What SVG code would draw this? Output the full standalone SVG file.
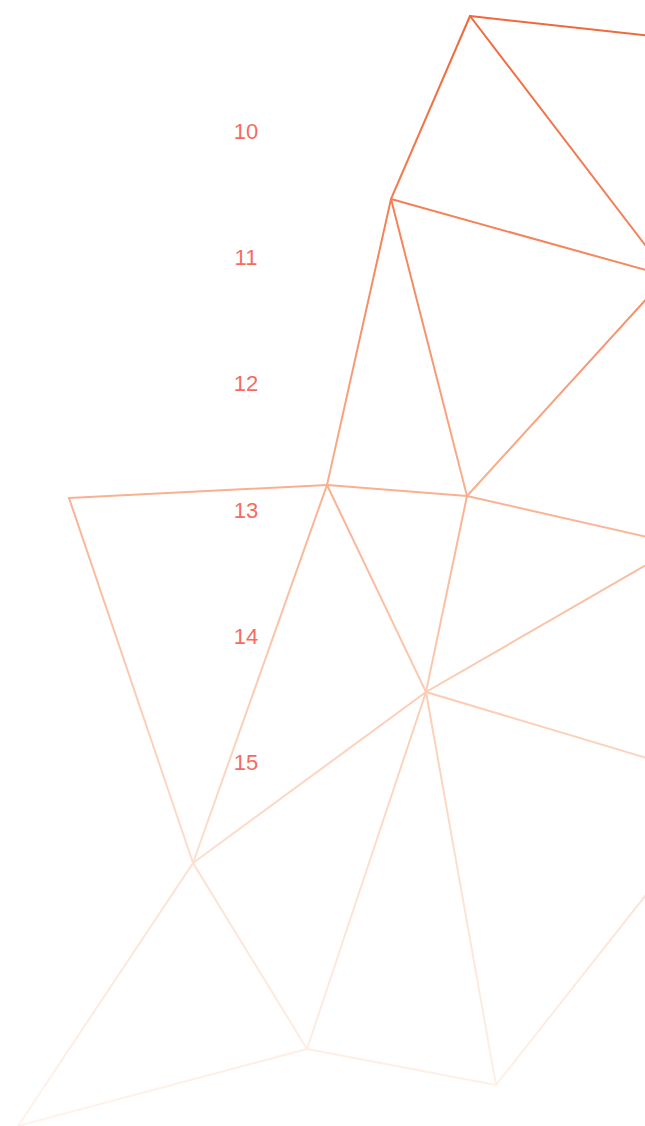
<svg xmlns="http://www.w3.org/2000/svg" width="645" height="1126" viewBox="0 0 645 1126">
  <defs>
    <linearGradient id="g" gradientUnits="userSpaceOnUse" x1="0" y1="0" x2="0" y2="1126">
      <stop offset="0" stop-color="#f06536"/>
      <stop offset="0.22" stop-color="#f5855c"/>
      <stop offset="0.45" stop-color="#f9b393"/>
      <stop offset="0.63" stop-color="#fbceb6"/>
      <stop offset="0.8" stop-color="#fde3d5"/>
      <stop offset="1" stop-color="#fef3ec"/>
    </linearGradient>
  </defs>
  <style>
    .e { stroke: url(#g); stroke-width: 2; fill: none; stroke-linecap: round; }
    .lbl { font-family: "Liberation Sans", Arial, sans-serif; font-size: 22px; font-weight: 300; fill: #f56b62; text-anchor: middle; }
  </style>
  <rect width="645" height="1126" fill="#ffffff"/>
  <g id="connectors">
    <path class="e" d="M470 16 L660 37"/>
    <path class="e" d="M470 16 L391 199"/>
    <path class="e" d="M470 16 L655 258"/>
    <path class="e" d="M391 199 L660 274"/>
    <path class="e" d="M391 199 L327 485"/>
    <path class="e" d="M391 199 L467 496"/>
    <path class="e" d="M467 496 L660 284"/>
    <path class="e" d="M327 485 L467 496"/>
    <path class="e" d="M69 498 L327 485"/>
    <path class="e" d="M69 498 L193 863"/>
    <path class="e" d="M327 485 L193 863"/>
    <path class="e" d="M327 485 L426 692"/>
    <path class="e" d="M467 496 L426 692"/>
    <path class="e" d="M467 496 L660 540"/>
    <path class="e" d="M426 692 L660 557"/>
    <path class="e" d="M426 692 L660 762"/>
    <path class="e" d="M426 692 L193 863"/>
    <path class="e" d="M426 692 L307 1049"/>
    <path class="e" d="M426 692 L496 1085"/>
    <path class="e" d="M193 863 L307 1049"/>
    <path class="e" d="M193 863 L18 1126"/>
    <path class="e" d="M307 1049 L18 1126"/>
    <path class="e" d="M307 1049 L496 1085"/>
    <path class="e" d="M496 1085 L660 877"/>
  </g>
  <g id="labels">
    <text class="lbl" x="246" y="139">10</text>
    <text class="lbl" x="246" y="265">11</text>
    <text class="lbl" x="246" y="391">12</text>
    <text class="lbl" x="246" y="518">13</text>
    <text class="lbl" x="246" y="644">14</text>
    <text class="lbl" x="246" y="770">15</text>
  </g>
</svg>
